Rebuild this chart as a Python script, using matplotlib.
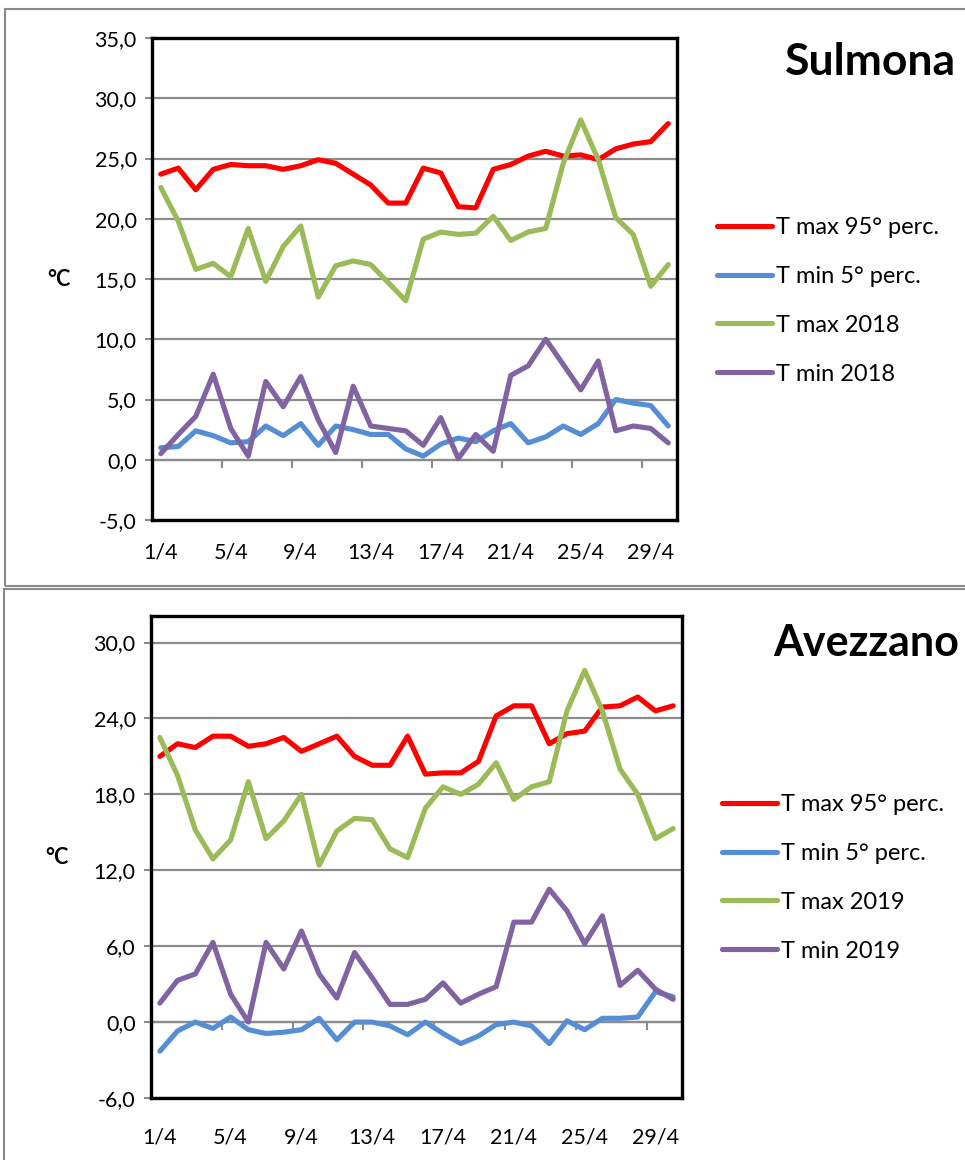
import numpy as np
import matplotlib.pyplot as plt
from matplotlib.patches import Rectangle

plt.rcParams['font.family'] = ['Lato', 'DejaVu Sans']

# giorni di aprile
days = [str(d) + "/4" for d in range(1, 31)]

# Sulmona
sul_tmax95 = [23.7, 24.2, 22.4, 24.1, 24.5, 24.4, 24.4, 24.1, 24.4, 24.9,
              24.6, 23.7, 22.8, 21.3, 21.3, 24.2, 23.8, 21.0, 20.9, 24.1,
              24.5, 25.2, 25.6, 25.2, 25.3, 24.9, 25.8, 26.2, 26.4, 27.9]
sul_tmin5 = [1.0, 1.1, 2.4, 2.0, 1.4, 1.5, 2.8, 2.0, 3.0, 1.2,
             2.8, 2.5, 2.1, 2.1, 0.9, 0.3, 1.3, 1.8, 1.5, 2.4,
             3.0, 1.4, 1.9, 2.8, 2.1, 3.0, 5.0, 4.7, 4.5, 2.8]
sul_tmax18 = [22.6, 19.8, 15.8, 16.3, 15.2, 19.2, 14.8, 17.7, 19.4, 13.5,
              16.1, 16.5, 16.2, 14.7, 13.2, 18.3, 18.9, 18.7, 18.8, 20.2,
              18.2, 18.9, 19.2, 24.6, 28.2, 24.9, 20.1, 18.7, 14.4, 16.2]
sul_tmin18 = [0.5, 2.1, 3.6, 7.1, 2.6, 0.3, 6.5, 4.4, 6.9, 3.3,
              0.6, 6.1, 2.8, 2.6, 2.4, 1.2, 3.5, 0.1, 2.1, 0.7,
              7.0, 7.8, 10.0, 7.9, 5.8, 8.2, 2.4, 2.8, 2.6, 1.4]

# Avezzano
avz_tmax95 = [21.0, 22.0, 21.7, 22.6, 22.6, 21.8, 22.0, 22.5, 21.4, 22.0,
              22.6, 21.0, 20.3, 20.3, 22.6, 19.6, 19.7, 19.7, 20.6, 24.2,
              25.0, 25.0, 22.0, 22.8, 23.0, 24.9, 25.0, 25.7, 24.6, 25.0]
avz_tmin5 = [-2.3, -0.7, 0.0, -0.5, 0.4, -0.6, -0.9, -0.8, -0.6, 0.3,
             -1.4, 0.0, 0.0, -0.3, -1.0, 0.0, -0.9, -1.7, -1.1, -0.2,
             0.0, -0.3, -1.7, 0.1, -0.6, 0.3, 0.3, 0.4, 2.4, 2.0]
avz_tmax19 = [22.5, 19.5, 15.2, 12.9, 14.4, 19.0, 14.5, 15.9, 18.0, 12.4,
              15.1, 16.1, 16.0, 13.7, 13.0, 16.9, 18.6, 18.0, 18.8, 20.5,
              17.6, 18.6, 19.0, 24.6, 27.8, 24.6, 20.0, 18.0, 14.5, 15.3]
avz_tmin19 = [1.5, 3.3, 3.8, 6.3, 2.2, 0.0, 6.3, 4.2, 7.2, 3.8,
              1.9, 5.5, 3.5, 1.4, 1.4, 1.8, 3.1, 1.5, 2.2, 2.8,
              7.9, 7.9, 10.5, 8.8, 6.2, 8.4, 2.9, 4.1, 2.6, 1.8]

c_red = "#FF0000"
c_blue = "#558ED5"
c_green = "#9BBB59"
c_purple = "#8064A2"
c_grid = "#8C8C8C"

fig = plt.figure(figsize=(9.65, 11.6), dpi=100)
W, H = 965.0, 1160.0

# riquadri grigi dei due grafici
fig.patches.append(Rectangle((5 / W, 1 - 586 / H), 1.1, 577 / H, transform=fig.transFigure,
                             fill=False, edgecolor="#8A8A8A", lw=1.5))
fig.patches.append(Rectangle((4 / W, -0.1), 1.1, 1 - 589 / H + 0.1, transform=fig.transFigure,
                             fill=False, edgecolor="#8A8A8A", lw=1.5))


def draw_panel(box, ylim, yticks, series, title, title_xy, title_fs, leg_xy, lab_pad):
    l, t, r, b = box
    ax = fig.add_axes([l / W, 1 - b / H, (r - l) / W, (b - t) / H])
    x = np.arange(len(days))
    for vals, col, lab in series:
        ax.plot(x, vals, color=col, lw=3.7, label=lab, solid_capstyle='round',
                solid_joinstyle='round')
    ax.set_xlim(-0.5, len(days) - 0.5)
    ax.set_ylim(*ylim)
    ax.set_yticks(yticks)
    ax.set_yticklabels([("%.1f" % v).replace(".", ",") for v in yticks], fontsize=15.5)
    ax.yaxis.grid(True, color=c_grid, lw=1.6)
    ax.set_axisbelow(True)
    ax.tick_params(axis='y', direction='out', length=5, width=1.5, color=c_grid, pad=6)
    ax.set_xticks(x[::4])
    ax.set_xticklabels(days[::4], fontsize=15.5)
    ax.tick_params(axis='x', length=0, pad=lab_pad)
    for s in ax.spines.values():
        s.set_color("black")
        s.set_linewidth(2.4)
    # asse delle categorie sullo zero
    sec = ax.secondary_xaxis(0, transform=ax.transData)
    sec.spines['bottom'].set_color(c_grid)
    sec.spines['bottom'].set_linewidth(1.6)
    sec.set_xticks(np.arange(3.5, len(days) - 1, 4))
    sec.tick_params(axis='x', direction='out', length=6, width=1.5, color=c_grid,
                    labelbottom=False)
    ax.set_ylabel("°C", rotation=0, fontsize=15.5, fontweight='bold', va='center', ha='center')
    ax.yaxis.set_label_coords(-0.178, 0.5)
    fig.text(title_xy[0] / W, 1 - title_xy[1] / H, title, fontsize=title_fs, fontweight='bold',
             ha='left', va='center')
    fig.legend(*ax.get_legend_handles_labels(), loc='upper left',
               bbox_to_anchor=(leg_xy[0] / W, 1 - leg_xy[1] / H), frameon=False,
               fontsize=17, handlelength=2.33, handletextpad=0.17, labelspacing=1.18,
               borderpad=0, borderaxespad=0)
    return ax


draw_panel((152, 38, 677, 520), (-5, 35), np.arange(-5, 36, 5),
           [(sul_tmax95, c_red, "T max 95° perc."),
            (sul_tmin5, c_blue, "T min 5° perc."),
            (sul_tmax18, c_green, "T max 2018"),
            (sul_tmin18, c_purple, "T min 2018")],
           "Sulmona", (785, 62), 32, (717, 217), 16)

draw_panel((151, 616, 682, 1098), (-6, 32.1), np.arange(-6, 31, 6),
           [(avz_tmax95, c_red, "T max 95° perc."),
            (avz_tmin5, c_blue, "T min 5° perc."),
            (avz_tmax19, c_green, "T max 2019"),
            (avz_tmin19, c_purple, "T min 2019")],
           "Avezzano", (773, 643), 31, (722, 794), 21)

fig.savefig("out.png", dpi=100)
